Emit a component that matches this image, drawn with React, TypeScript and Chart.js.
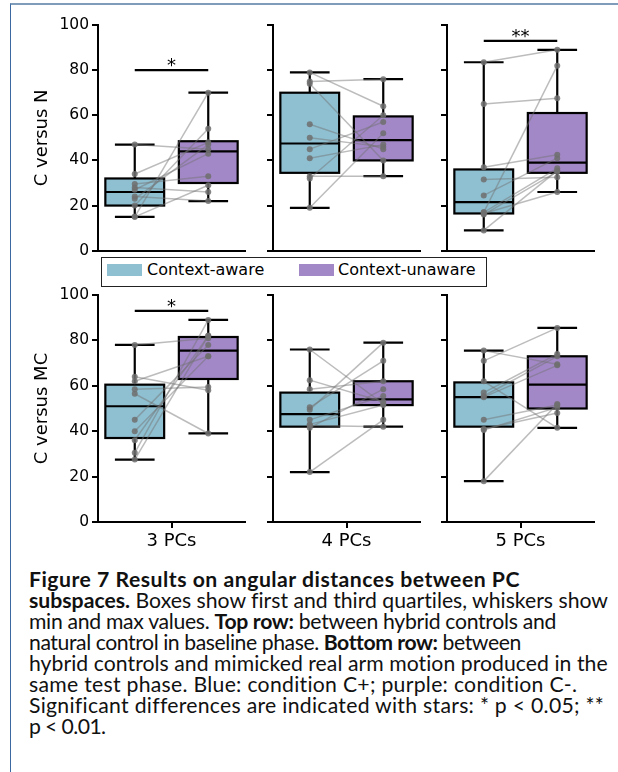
import React, { useEffect, useLayoutEffect, useRef, useState } from "react";
import { Chart, registerables } from "chart.js";

Chart.register(...registerables);
Chart.defaults.font.family = "'DejaVu Sans', sans-serif";

// ---------- data ----------
const categories = ["3 PCs", "4 PCs", "5 PCs"];
const rowTitles = ["C versus N", "C versus MC"];
const legendLabels = ["Context-aware", "Context-unaware"];
const yTickValues = [0, 20, 40, 60, 80, 100];

// Top row (C versus N): per-subject values, paired by index
const cnAware3 = [47, 34, 29.5, 28, 27, 24, 23, 20, 15, 15];
const cnUnaware3 = [45, 48, 33, 26, 43, 22, 47, 54, 70, 29];
const cnAware4 = [79, 75, 74, 56, 50, 45, 41, 32, 33, 19];
const cnUnaware4 = [64, 76, 40, 45, 46, 57, 47, 60, 33, 52];
const cnAware5 = [83.5, 65, 37, 31.5, 24.5, 17, 17, 16, 9, 16.5];
const cnUnaware5 = [89, 67.5, 42.5, 32.5, 41, 82, 36.5, 35, 35.5, 26];

// Bottom row (C versus MC)
const cmcAware3 = [78, 64, 58.5, 56.5, 45, 40, 36, 30.5, 27.5, 62];
const cmcUnaware3 = [81, 58, 59.5, 39, 78, 73, 82, 89, 82, 73];
const cmcAware4 = [76, 62.5, 58.5, 50.5, 49.5, 45, 42.5, 41.5, 22, 43];
const cmcUnaware4 = [52, 53, 62, 71, 79, 55.5, 42, 58.5, 45, 51.5];
const cmcAware5 = [75.5, 71, 62, 57, 55.5, 55, 45, 41, 40.5, 18];
const cmcUnaware5 = [69.5, 85.5, 41.5, 74, 73, 69, 51.5, 48, 50.5, 52];

// Box statistics [min, q1, median, q3, max] per PC count
const cnAwareBox = [[15, 20, 26, 32, 47], [19, 34.5, 47.5, 70, 79], [9, 16.5, 21.5, 36, 83.5]];
const cnUnawareBox = [[22, 30, 44, 48.5, 70], [33, 40, 49, 59.5, 76], [26, 34.5, 39, 61, 89]];
const cmcAwareBox = [[27.5, 37, 51, 60.5, 78], [22, 42, 47.5, 57, 76], [18, 42, 55, 61.5, 75.5]];
const cmcUnawareBox = [[39, 63, 75.5, 81.5, 89], [42, 51.5, 54, 62, 79], [41.5, 50, 60.5, 73, 85.5]];

// Significance marks
const cnStars = ["*", "", "**"];
const cnStarLevel = [80, null, 93];
const cmcStars = ["*", "", ""];
const cmcStarLevel = [93, null, null];

// ---------- styling ----------
const BLUE = "#8fc0d2";
const PURPLE = "#a388c8";
const LINE_GRAY = "rgba(115,115,115,0.48)";
const POINT_GRAY = "rgba(110,110,110,0.85)";
const POS = [-0.25, 0.25];

const pairs = [
  [[cnAware3, cnUnaware3], [cnAware4, cnUnaware4], [cnAware5, cnUnaware5]],
  [[cmcAware3, cmcUnaware3], [cmcAware4, cmcUnaware4], [cmcAware5, cmcUnaware5]],
];
const boxes = [
  [cnAwareBox, cnUnawareBox],
  [cmcAwareBox, cmcUnawareBox],
];
const stars = [cnStars, cmcStars];
const starLevels = [cnStarLevel, cmcStarLevel];

const COL_GEOM = [
  { left: 0, width: 250, yw: 98 },
  { left: 253, width: 172, yw: 20 },
  { left: 427, width: 172, yw: 20 },
];
const ROW_GEOM = [
  { top: 11, height: 252, xh: 12 },
  { top: 281, height: 281, xh: 40 },
];

function makePlugin(row: number, col: number) {
  return {
    id: "pairedBoxes",
    beforeDatasetsDraw(chart: any) {
      const { ctx } = chart;
      const x = chart.scales.x;
      const y = chart.scales.y;
      const cols = [BLUE, PURPLE];
      [0, 1].forEach((k) => {
        const st = boxes[row][k][col];
        const cx = x.getPixelForValue(POS[k]);
        const hw = x.getPixelForValue(0.2) - x.getPixelForValue(0);
        const cw = x.getPixelForValue(0.135) - x.getPixelForValue(0);
        const [mn, q1, md, q3, mx] = st.map((v: number) => y.getPixelForValue(v));
        ctx.save();
        ctx.strokeStyle = "#000";
        ctx.lineWidth = 2.2;
        ctx.lineCap = "butt";
        ctx.beginPath();
        ctx.moveTo(cx, q3);
        ctx.lineTo(cx, mx);
        ctx.moveTo(cx, q1);
        ctx.lineTo(cx, mn);
        ctx.moveTo(cx - cw, mx);
        ctx.lineTo(cx + cw, mx);
        ctx.moveTo(cx - cw, mn);
        ctx.lineTo(cx + cw, mn);
        ctx.stroke();
        ctx.fillStyle = cols[k];
        ctx.fillRect(cx - hw, q3, 2 * hw, q1 - q3);
        ctx.strokeRect(cx - hw, q3, 2 * hw, q1 - q3);
        ctx.beginPath();
        ctx.moveTo(cx - hw, md);
        ctx.lineTo(cx + hw, md);
        ctx.stroke();
        ctx.restore();
      });
    },
    afterDatasetsDraw(chart: any) {
      const label = stars[row][col];
      const lvl = starLevels[row][col];
      if (!label || lvl == null) return;
      const { ctx } = chart;
      const x = chart.scales.x;
      const y = chart.scales.y;
      const x0 = x.getPixelForValue(POS[0]);
      const x1 = x.getPixelForValue(POS[1]);
      const yy = y.getPixelForValue(lvl);
      ctx.save();
      ctx.strokeStyle = "#000";
      ctx.lineWidth = 2.2;
      ctx.beginPath();
      ctx.moveTo(x0, yy);
      ctx.lineTo(x1, yy);
      ctx.stroke();
      ctx.fillStyle = "#000";
      ctx.font = "18px 'DejaVu Sans'";
      ctx.textAlign = "center";
      ctx.textBaseline = "alphabetic";
      ctx.fillText(label, (x0 + x1) / 2, yy + 1);
      ctx.restore();
    },
  };
}

function makeConfig(row: number, col: number): any {
  const [aware, unaware] = pairs[row][col];
  const datasets = aware.map((a, i) => ({
    data: [
      { x: POS[0], y: a },
      { x: POS[1], y: unaware[i] },
    ],
    showLine: true,
    borderColor: LINE_GRAY,
    borderWidth: 1.5,
    pointRadius: 3,
    pointHoverRadius: 3,
    pointBackgroundColor: POINT_GRAY,
    pointBorderWidth: 0,
  }));
  const axisGrid = {
    display: true,
    drawOnChartArea: false,
    drawTicks: true,
    tickLength: 6,
    color: "#000",
    lineWidth: 2,
  };
  const border = { display: true, color: "#000", width: 2 };
  return {
    type: "scatter",
    data: { datasets },
    options: {
      animation: false,
      responsive: false,
      events: [],
      layout: { padding: { top: 14, right: 5, left: 0, bottom: 0 } },
      plugins: { legend: { display: false }, tooltip: { enabled: false } },
      scales: {
        x: {
          type: "linear",
          min: -0.5,
          max: 0.5,
          afterBuildTicks: (s: any) => {
            s.ticks = row === 1 ? [{ value: 0 }] : [];
          },
          afterFit: (s: any) => {
            s.height = ROW_GEOM[row].xh;
          },
          grid: axisGrid,
          border,
          ticks: {
            callback: () => categories[col],
            font: { size: 18 },
            color: "#000",
            padding: 3,
            maxRotation: 0,
            autoSkip: false,
          },
        },
        y: {
          min: 0,
          max: 100,
          afterBuildTicks: (s: any) => {
            s.ticks = yTickValues.map((v) => ({ value: v }));
          },
          afterFit: (s: any) => {
            s.width = COL_GEOM[col].yw;
          },
          grid: axisGrid,
          border,
          ticks: {
            font: { size: 15.5 },
            color: col === 0 ? "#000" : "rgba(0,0,0,0)",
            padding: 3,
            autoSkip: false,
          },
          title: {
            display: col === 0,
            text: rowTitles[row],
            font: { size: 18 },
            color: "#000",
            padding: { top: 32, bottom: 0 },
          },
        },
      },
    },
    plugins: [makePlugin(row, col)],
  };
}

function Panel({ row, col }: { row: number; col: number }) {
  const ref = useRef<HTMLCanvasElement>(null);
  useEffect(() => {
    if (!ref.current) return;
    const chart = new Chart(ref.current, makeConfig(row, col));
    return () => chart.destroy();
  }, [row, col]);
  const c = COL_GEOM[col];
  const r = ROW_GEOM[row];
  return (
    <canvas
      ref={ref}
      width={c.width}
      height={r.height}
      style={{ position: "absolute", left: c.left, top: r.top, width: c.width, height: r.height }}
    />
  );
}

function Legend() {
  const text: React.CSSProperties = {
    position: "absolute",
    fontFamily: "'DejaVu Sans', sans-serif",
    fontSize: 16,
    lineHeight: "16px",
    color: "#000",
    whiteSpace: "nowrap",
    top: 262,
  };
  return (
    <>
      <div
        style={{
          position: "absolute",
          left: 101,
          top: 257,
          width: 386,
          height: 30,
          border: "1px solid #222",
          boxSizing: "border-box",
          background: "#fff",
        }}
      />
      <div style={{ position: "absolute", left: 107, top: 264, width: 35, height: 12, background: BLUE }} />
      <div style={{ ...text, left: 147 }}>{legendLabels[0]}</div>
      <div style={{ position: "absolute", left: 299, top: 264, width: 35, height: 12, background: PURPLE }} />
      <div style={{ ...text, left: 338 }}>{legendLabels[1]}</div>
    </>
  );
}

// caption lines and the right edge each line reaches in the reference
const CAPTION_LEFT = 29;
const captionRightEdges = [520, 608, 556, 520, 608, 578, 603, 103];

function Caption() {
  const refs = useRef<(HTMLSpanElement | null)[]>([]);
  const [fs, setFs] = useState<number | null>(null);
  const [spacing, setSpacing] = useState<number[] | null>(null);
  useLayoutEffect(() => {
    if (fs === null) {
      const el = refs.current[1];
      if (!el) return;
      const w = el.getBoundingClientRect().width;
      setFs((18 * (captionRightEdges[1] - CAPTION_LEFT)) / w);
      return;
    }
    if (spacing) return;
    const s = refs.current.map((el, i) => {
      if (!el) return 0;
      const w = el.getBoundingClientRect().width;
      const n = (el.textContent || "").length;
      const target = captionRightEdges[i] - CAPTION_LEFT;
      const v = (target - w) / Math.max(n, 1);
      return Math.max(-0.6, Math.min(0.6, v));
    });
    setSpacing(s);
  }, [fs, spacing]);
  const lines: React.ReactNode[] = [
    <b>Figure 7 Results on angular distances between PC</b>,
    <>
      <b>subspaces.</b> Boxes show first and third quartiles, whiskers show
    </>,
    <>
      min and max values. <b>Top row:</b> between hybrid controls and
    </>,
    <>
      natural control in baseline phase. <b>Bottom row:</b> between
    </>,
    <>hybrid controls and mimicked real arm motion produced in the</>,
    <>same test phase. Blue: condition C+; purple: condition C-.</>,
    <>Significant differences are indicated with stars: * p &lt; 0.05; **</>,
    <>p &lt; 0.01.</>,
  ];
  return (
    <div
      style={{
        position: "absolute",
        left: CAPTION_LEFT,
        top: 569,
        fontFamily: "Lato, 'Open Sans', sans-serif",
        fontSize: fs ?? 18,
        color: "#111",
      }}
    >
      {lines.map((content, i) => (
        <div key={i} style={{ height: 21, lineHeight: "21px", whiteSpace: "nowrap" }}>
          <span
            ref={(el) => {
              refs.current[i] = el;
            }}
            style={{ display: "inline-block", letterSpacing: spacing ? spacing[i] : 0 }}
          >
            {content}
          </span>
        </div>
      ))}
    </div>
  );
}

export default function App() {
  useEffect(() => {
    document.body.style.margin = "0";
  }, []);
  return (
    <div style={{ position: "relative", width: 618, height: 772, background: "#fff", overflow: "hidden" }}>
      <div
        style={{
          position: "absolute",
          left: 10,
          top: 3,
          width: 620,
          height: 780,
          borderTop: "2px solid #7f9cbb",
          borderLeft: "1px solid #3b68a0",
          boxSizing: "border-box",
        }}
      />
      {[0, 1].map((r) => [0, 1, 2].map((c) => <Panel key={`${r}-${c}`} row={r} col={c} />))}
      <Legend />
      <Caption />
    </div>
  );
}
